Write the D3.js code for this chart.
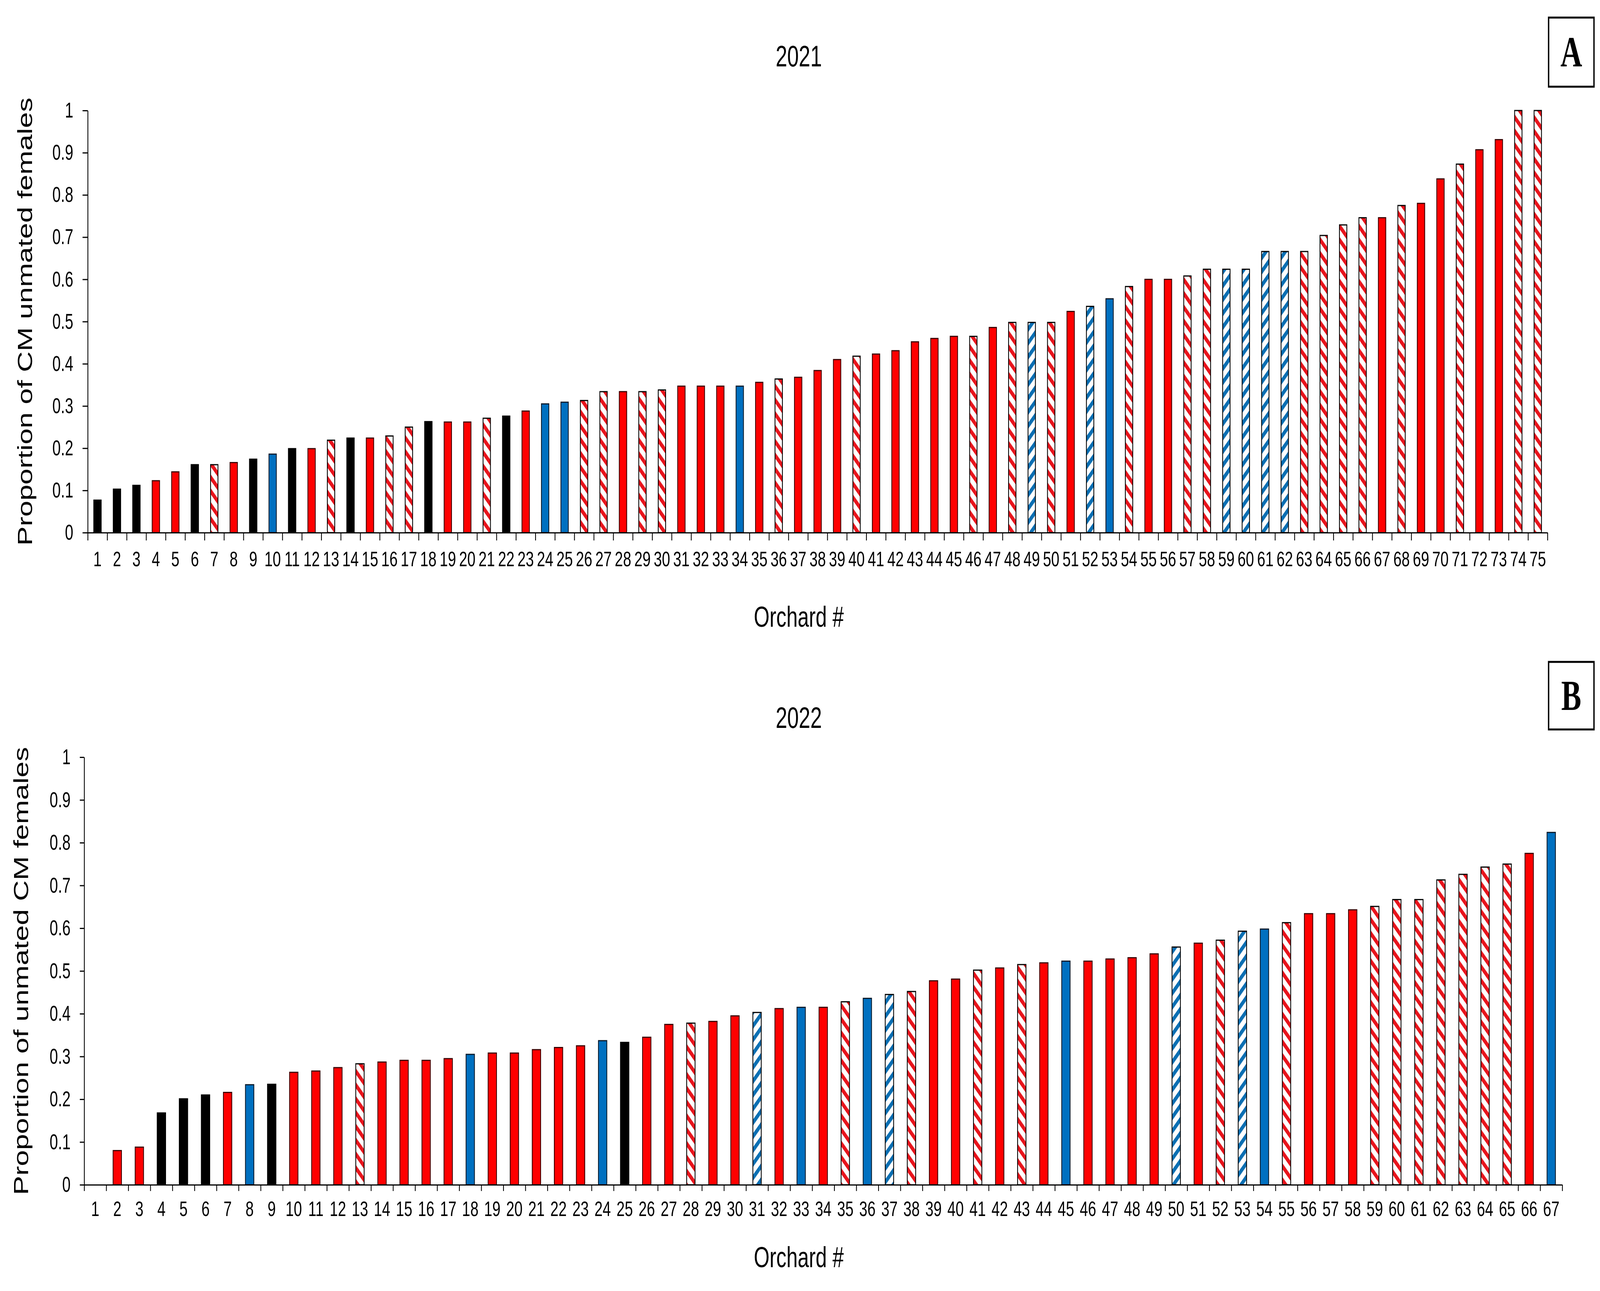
<!DOCTYPE html>
<meta charset='utf-8'>
<style>
html, body { margin: 0; padding: 0; background: #fff; overflow: hidden; }
#chart {
  position: fixed;
  left: 0px;
  top: 0px;
  width: 100vw;
  height: 100vh;
  display: block;
}
text { font-family: 'Liberation Sans', Arial, sans-serif; fill: #000; }
.box-letter { font-family: 'Liberation Serif', 'Times New Roman', serif; font-weight: bold; }
</style>
<svg id='chart'></svg>
<script src="https://cdn.jsdelivr.net/npm/d3@7"></script>
<script>

// 2021 orchards (panel A)
const valuesA = [
  0.077, 0.103, 0.112, 0.123, 0.144, 0.161, 0.161, 0.166, 0.174, 0.186,
  0.199, 0.199, 0.219, 0.224, 0.224, 0.229, 0.250, 0.263, 0.262, 0.262,
  0.271, 0.276, 0.288, 0.305, 0.309, 0.313, 0.334, 0.334, 0.334, 0.338,
  0.347, 0.347, 0.347, 0.347, 0.356, 0.364, 0.368, 0.384, 0.410, 0.418,
  0.423, 0.431, 0.452, 0.460, 0.465, 0.465, 0.486, 0.498, 0.498, 0.498,
  0.524, 0.536, 0.554, 0.583, 0.600, 0.600, 0.608, 0.624, 0.624, 0.624,
  0.666, 0.666, 0.666, 0.704, 0.729, 0.746, 0.746, 0.775, 0.780, 0.838,
  0.873, 0.907, 0.931, 1.000, 1.000
];
// K = black, R = red, B = blue, RH = red hatched, BH = blue hatched
const typesA = [
  'K','K','K','R','R','K','RH','R','K','B',
  'K','R','RH','K','R','RH','RH','K','R','R',
  'RH','K','R','B','B','RH','RH','R','RH','RH',
  'R','R','R','B','R','RH','R','R','R','RH',
  'R','R','R','R','R','RH','R','RH','BH','RH',
  'R','BH','B','RH','R','R','RH','RH','BH','BH',
  'BH','BH','RH','RH','RH','RH','R','RH','R','R',
  'RH','R','R','RH','RH'
];

// 2022 orchards (panel B)
const valuesB = [
  0.000, 0.080, 0.088, 0.168, 0.201, 0.210, 0.216, 0.234, 0.235, 0.263,
  0.266, 0.274, 0.283, 0.287, 0.291, 0.291, 0.295, 0.305, 0.308, 0.308,
  0.316, 0.321, 0.325, 0.337, 0.333, 0.345, 0.375, 0.378, 0.382, 0.395,
  0.403, 0.412, 0.415, 0.415, 0.428, 0.436, 0.445, 0.452, 0.477, 0.481,
  0.502, 0.507, 0.515, 0.519, 0.523, 0.523, 0.528, 0.531, 0.540, 0.556,
  0.565, 0.572, 0.593, 0.598, 0.613, 0.634, 0.634, 0.643, 0.651, 0.667,
  0.667, 0.713, 0.726, 0.743, 0.750, 0.775, 0.824
];
const typesB = [
  'R','R','R','K','K','K','R','B','K','R',
  'R','R','RH','R','R','R','R','B','R','R',
  'R','R','R','B','K','R','R','RH','R','R',
  'BH','R','B','R','RH','B','BH','RH','R','R',
  'RH','R','RH','R','B','R','R','R','R','BH',
  'R','RH','BH','B','RH','R','R','R','RH','RH',
  'RH','RH','RH','RH','RH','R','B'
];

const yTicks = [0, 0.1, 0.2, 0.3, 0.4, 0.5, 0.6, 0.7, 0.8, 0.9, 1];

// drawing coordinates follow the 5853x3306 reference; the svg is stretched to the window
const W = 5853, H = 3306;
const svg = d3.select('#chart')
  .attr('viewBox', '0 0 ' + W + ' ' + H)
  .attr('preserveAspectRatio', 'none');

svg.append('rect').attr('width', W).attr('height', H).attr('fill', '#fff');

// hatch patterns
const defs = svg.append('defs');
function hatch(id, color, angle) {
  const p = defs.append('pattern')
    .attr('id', id)
    .attr('patternUnits', 'userSpaceOnUse')
    .attr('width', 25)
    .attr('height', 25)
    .attr('patternTransform', 'rotate(' + angle + ')');
  p.append('rect').attr('width', 25).attr('height', 25).attr('fill', '#fff');
  p.append('rect').attr('width', 11).attr('height', 25).attr('fill', color);
}
hatch('hatchRed', '#e8141c', -45);
hatch('hatchBlue', '#0b6fb3', 45);

const fills = { K: '#000', R: '#ff0000', B: '#0070c0', RH: 'url(#hatchRed)', BH: 'url(#hatchBlue)' };
const strokes = { K: '#000', R: '#3a0000', B: '#0a1a2a', RH: '#000', BH: '#000' };

const panels = [
  { values: valuesA, types: typesA, title: '2021', letter: 'A',
    yLabel: 'Proportion of CM unmated females',
    x0: 321, x1: 5661, yTop: 283, yBot: 1364,
    titleY: 170, xLabelY: 1605, tickLabelY: 1450, yTitleX: 117,
    tickLen: 19, xTickLen: 20, box: [5665, 45, 166, 177] },
  { values: valuesB, types: typesB, title: '2022', letter: 'B',
    yLabel: 'Proportion of unmated CM females',
    x0: 308, x1: 5715, yTop: 1939, yBot: 3034,
    titleY: 1864, xLabelY: 3245, tickLabelY: 3114, yTitleX: 103,
    tickLen: 16, xTickLen: 16, box: [5665, 1695, 166, 173] }
];

panels.forEach(drawPanel);

function drawPanel(p) {
  const n = p.values.length;
  const orchards = p.values.map((v, i) => String(i + 1));
  const rows = p.values.map((v, i) => ({ orchard: orchards[i], value: v, type: p.types[i] }));

  const x = d3.scaleBand()
    .domain(orchards)
    .range([p.x0, p.x1])
    .paddingInner(0.62)
    .paddingOuter(0.31);

  const xEdge = d3.scaleLinear().domain([0, n]).range([p.x0, p.x1]);

  const y = d3.scaleLinear().domain([0, 1]).range([p.yBot, p.yTop]);

  const g = svg.append('g');

  // bars
  g.append('g').selectAll('rect')
    .data(rows.filter(d => d.value > 0))
    .join('rect')
    .attr('x', d => x(d.orchard))
    .attr('y', d => y(d.value))
    .attr('width', x.bandwidth())
    .attr('height', d => y(0) - y(d.value))
    .attr('fill', d => fills[d.type])
    .attr('stroke', d => strokes[d.type])
    .attr('stroke-width', 3);

  // y axis
  const yAxis = g.append('g')
    .attr('transform', 'translate(' + p.x0 + ',0)')
    .call(d3.axisLeft(y)
      .tickValues(yTicks)
      .tickSize(p.tickLen)
      .tickSizeOuter(0)
      .tickPadding(34)
      .tickFormat(d => d === 0 ? '0' : d === 1 ? '1' : d3.format('.1f')(d)));
  yAxis.selectAll('text').style('font-size', '55px').attr('fill', '#000')
    .style('font-family', "'Liberation Sans', Arial, sans-serif");
  yAxis.selectAll('line, path').attr('stroke', '#000').attr('stroke-width', 3);

  // x axis line with boundary ticks
  const xAxis = g.append('g')
    .attr('transform', 'translate(0,' + p.yBot + ')')
    .call(d3.axisBottom(xEdge)
      .tickValues(d3.range(0, n + 1))
      .tickSize(p.xTickLen)
      .tickSizeOuter(0)
      .tickFormat(''));
  xAxis.selectAll('line, path').attr('stroke', '#000').attr('stroke-width', 3);

  // orchard number labels at band centers
  const xLabels = g.append('g')
    .attr('transform', 'translate(0,' + p.yBot + ')')
    .call(d3.axisBottom(x).tickSize(0).tickPadding(0));
  xLabels.select('.domain').remove();
  xLabels.selectAll('text')
    .attr('y', p.tickLabelY - p.yBot)
    .attr('dy', null)
    .attr('fill', '#000')
    .style('font-size', '54px')
    .style('font-family', "'Liberation Sans', Arial, sans-serif");

  // titles
  g.append('text')
    .attr('x', 2922).attr('y', p.titleY)
    .attr('text-anchor', 'middle')
    .style('font-size', '76px')
    .text(p.title);

  g.append('text')
    .attr('x', 2922).attr('y', p.xLabelY)
    .attr('text-anchor', 'middle')
    .style('font-size', '74px')
    .text('Orchard #');

  g.append('text')
    .attr('transform', 'translate(' + p.yTitleX + ',' + ((p.yTop + p.yBot) / 2) + ') rotate(-90)')
    .attr('text-anchor', 'middle')
    .style('font-size', '74px')
    .text(p.yLabel);

  // panel letter box
  const b = p.box;
  g.append('rect')
    .attr('x', b[0]).attr('y', b[1])
    .attr('width', b[2]).attr('height', b[3])
    .attr('fill', 'none')
    .attr('stroke', '#000')
    .attr('stroke-width', 5);
  g.append('text')
    .attr('class', 'box-letter')
    .attr('x', b[0] + b[2] / 2)
    .attr('y', b[1] + b[3] / 2 + 37)
    .attr('text-anchor', 'middle')
    .style('font-size', '110px')
    .text(p.letter);
}

</script>
